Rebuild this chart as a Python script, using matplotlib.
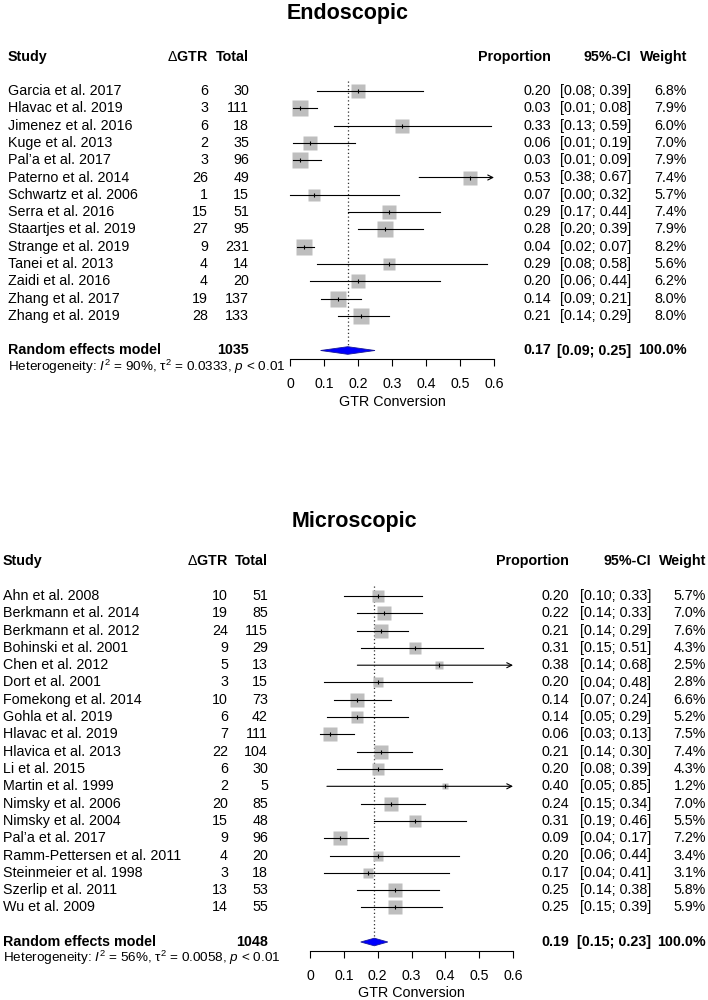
import numpy as np
import matplotlib
matplotlib.use("Agg")
import matplotlib.pyplot as plt
from matplotlib.patches import Polygon
from matplotlib.transforms import blended_transform_factory

plt.rcParams['font.family'] = ['Liberation Sans', 'DejaVu Sans']
plt.rcParams['mathtext.fontset'] = 'custom'
plt.rcParams['mathtext.rm'] = 'Liberation Sans'
plt.rcParams['mathtext.it'] = 'Liberation Sans:italic'
plt.rcParams['mathtext.bf'] = 'Liberation Sans:bold'

# endoscopic studies
endo_study = ["Garcia et al. 2017", "Hlavac et al. 2019", "Jimenez et al. 2016", "Kuge et al. 2013",
              "Pal\u2019a et al. 2017", "Paterno et al. 2014", "Schwartz et al. 2006", "Serra et al. 2016",
              "Staartjes et al. 2019", "Strange et al. 2019", "Tanei et al. 2013", "Zaidi et al. 2016",
              "Zhang et al. 2017", "Zhang et al. 2019"]
endo_events = [6, 3, 6, 2, 3, 26, 1, 15, 27, 9, 4, 4, 19, 28]
endo_total = [30, 111, 18, 35, 96, 49, 15, 51, 95, 231, 14, 20, 137, 133]
endo_prop = [0.20, 0.03, 0.33, 0.06, 0.03, 0.53, 0.07, 0.29, 0.28, 0.04, 0.29, 0.20, 0.14, 0.21]
endo_lo = [0.08, 0.01, 0.13, 0.01, 0.01, 0.38, 0.00, 0.17, 0.20, 0.02, 0.08, 0.06, 0.09, 0.14]
endo_hi = [0.39, 0.08, 0.59, 0.19, 0.09, 0.67, 0.32, 0.44, 0.39, 0.07, 0.58, 0.44, 0.21, 0.29]
endo_weight = [6.8, 7.9, 6.0, 7.0, 7.9, 7.4, 5.7, 7.4, 7.9, 8.2, 5.6, 6.2, 8.0, 8.0]
endo_pooled = (0.17, 0.09, 0.25)
endo_n = 1035
endo_het = (90, "0.0333", "0.01")

# microscopic studies
micro_study = ["Ahn et al. 2008", "Berkmann et al. 2014", "Berkmann et al. 2012", "Bohinski et al. 2001",
               "Chen et al. 2012", "Dort et al. 2001", "Fomekong et al. 2014", "Gohla et al. 2019",
               "Hlavac et al. 2019", "Hlavica et al. 2013", "Li et al. 2015", "Martin et al. 1999",
               "Nimsky et al. 2006", "Nimsky et al. 2004", "Pal\u2019a et al. 2017",
               "Ramm-Pettersen et al. 2011", "Steinmeier et al. 1998", "Szerlip et al. 2011", "Wu et al. 2009"]
micro_events = [10, 19, 24, 9, 5, 3, 10, 6, 7, 22, 6, 2, 20, 15, 9, 4, 3, 13, 14]
micro_total = [51, 85, 115, 29, 13, 15, 73, 42, 111, 104, 30, 5, 85, 48, 96, 20, 18, 53, 55]
micro_prop = [0.20, 0.22, 0.21, 0.31, 0.38, 0.20, 0.14, 0.14, 0.06, 0.21, 0.20, 0.40, 0.24, 0.31,
              0.09, 0.20, 0.17, 0.25, 0.25]
micro_lo = [0.10, 0.14, 0.14, 0.15, 0.14, 0.04, 0.07, 0.05, 0.03, 0.14, 0.08, 0.05, 0.15, 0.19,
            0.04, 0.06, 0.04, 0.14, 0.15]
micro_hi = [0.33, 0.33, 0.29, 0.51, 0.68, 0.48, 0.24, 0.29, 0.13, 0.30, 0.39, 0.85, 0.34, 0.46,
            0.17, 0.44, 0.41, 0.38, 0.39]
micro_weight = [5.7, 7.0, 7.6, 4.3, 2.5, 2.8, 6.6, 5.2, 7.5, 7.4, 4.3, 1.2, 7.0, 5.5, 7.2, 3.4, 3.1, 5.8, 5.9]
micro_pooled = (0.19, 0.15, 0.23)
micro_n = 1048
micro_het = (56, "0.0058", "0.01")

xticks = [0, 0.1, 0.2, 0.3, 0.4, 0.5, 0.6]

W, H = 708, 1000
fig = plt.figure(figsize=(W / 100, H / 100), dpi=100)
FS = 10.3


def fx(px):
    return px / W


def fy(py):
    return 1 - py / H


def panel(title, study, events, total, prop, lo, hi, weight, pooled, n_total, het, lay):
    row0, dy = lay["row0"], lay["dy"]
    n = len(study)
    rand_row = n + 1
    axis_px = row0 + (rand_row + 0.5) * dy
    top_row = -0.9
    x0, x6 = lay["x0"], lay["x6"]
    ax = fig.add_axes([fx(x0), fy(axis_px), (x6 - x0) / W, (axis_px - (row0 + top_row * dy)) / H])
    ax.set_xlim(0, 0.6)
    ax.set_ylim(rand_row + 0.5, top_row)
    ax.patch.set_alpha(0)
    for s in ["top", "right", "left"]:
        ax.spines[s].set_visible(False)
    ax.spines["bottom"].set_bounds(0, 0.6)
    ax.spines["bottom"].set_linewidth(0.8)
    ax.set_yticks([])
    ax.set_xticks(xticks)
    ax.set_xticklabels(["0" if t == 0 else f"{t:g}" for t in xticks], fontsize=10.2)
    ax.tick_params(axis="x", direction="out", length=5, width=0.8, pad=8)

    # pooled estimate reference line
    ax.plot([pooled[0], pooled[0]], [-0.6, rand_row], ls=(0, (1, 2)), color="#333333", lw=0.9, zorder=1)

    for i in range(n):
        side = 5.4 * np.sqrt(weight[i]) * 0.72
        ax.plot(prop[i], i, marker="s", ms=side, color="#BEBEBE", mec="none", zorder=2, clip_on=False)
        if hi[i] > 0.6:
            ax.annotate("", xy=(0.6, i), xytext=(lo[i], i),
                        arrowprops=dict(arrowstyle="->", lw=0.8, color="black",
                                        shrinkA=0, shrinkB=0, mutation_scale=9), zorder=3)
        else:
            ax.plot([lo[i], hi[i]], [i, i], color="black", lw=0.8, zorder=3, clip_on=False)
        ax.plot(prop[i], i, marker="|", ms=3.5, mew=0.8, color="black", zorder=4, clip_on=False)

    h = 0.22
    d = Polygon([(pooled[1], rand_row), (pooled[0], rand_row - h), (pooled[2], rand_row),
                 (pooled[0], rand_row + h)], closed=True, fc="#0000FF", ec="#1a1a99", lw=0.6,
                zorder=3, clip_on=False)
    ax.add_patch(d)

    tr = blended_transform_factory(fig.transFigure, ax.transData)
    c = lay["cols"]
    fig.text(fx(lay["title_x"]), fy(lay["title_y"]), title, fontsize=15.5, fontweight="bold",
             ha="center", va="center")
    hy = fy(lay["header_y"])
    fig.text(fx(c[0]), hy, "Study", fontsize=FS, fontweight="bold", ha="left", va="center")
    fig.text(fx(c[1]), hy, r"$\Delta$GTR", fontsize=FS, fontweight="bold", ha="right", va="center")
    fig.text(fx(c[2]), hy, "Total", fontsize=FS, fontweight="bold", ha="right", va="center")
    fig.text(fx(c[3]), hy, "Proportion", fontsize=FS, fontweight="bold", ha="right", va="center")
    fig.text(fx(c[4]), hy, "95%-CI", fontsize=FS, fontweight="bold", ha="right", va="center")
    fig.text(fx(c[5]), hy, "Weight", fontsize=FS, fontweight="bold", ha="right", va="center")

    for i in range(n):
        kw = dict(transform=tr, fontsize=FS, va="center")
        ax.text(fx(c[0]), i, study[i], ha="left", **kw)
        ax.text(fx(c[1]), i, str(events[i]), ha="right", **kw)
        ax.text(fx(c[2]), i, str(total[i]), ha="right", **kw)
        ax.text(fx(c[3]), i, f"{prop[i]:.2f}", ha="right", **kw)
        ax.text(fx(c[4]), i, f"[{lo[i]:.2f}; {hi[i]:.2f}]", ha="right", **kw)
        ax.text(fx(c[5]), i, f"{weight[i]:.1f}%", ha="right", **kw)

    kw = dict(transform=tr, fontsize=FS, va="center", fontweight="bold")
    ax.text(fx(c[0]), rand_row, "Random effects model", ha="left", **kw)
    ax.text(fx(c[2]), rand_row, str(n_total), ha="right", **kw)
    ax.text(fx(c[3]), rand_row, f"{pooled[0]:.2f}", ha="right", **kw)
    ax.text(fx(c[4]), rand_row, f"[{pooled[1]:.2f}; {pooled[2]:.2f}]", ha="right", **kw)
    ax.text(fx(c[5]), rand_row, "100.0%", ha="right", **kw)
    ax.text(fx(c[0]), rand_row + 0.92,
            "Heterogeneity: $I^2$ = %d%%, \u03c4$^2$ = %s, $p$ < %s" % het,
            transform=tr, fontsize=9.7, ha="left", va="center")

    fig.text(fx((x0 + x6) / 2), fy(lay["xlab_y"]), "GTR Conversion", fontsize=FS, ha="center", va="center")


panel("Endoscopic", endo_study, endo_events, endo_total, endo_prop, endo_lo, endo_hi, endo_weight,
      endo_pooled, endo_n, endo_het,
      dict(row0=91, dy=17.3, x0=290, x6=494, title_x=348, title_y=14, header_y=57, xlab_y=402,
           cols=[8, 208, 249, 551, 631, 687]))

panel("Microscopic", micro_study, micro_events, micro_total, micro_prop, micro_lo, micro_hi, micro_weight,
      micro_pooled, micro_n, micro_het,
      dict(row0=596, dy=17.3, x0=310, x6=513, title_x=354, title_y=522, header_y=561, xlab_y=993,
           cols=[3, 228, 268, 569, 651, 706]))

fig.savefig("out.png", dpi=100)
